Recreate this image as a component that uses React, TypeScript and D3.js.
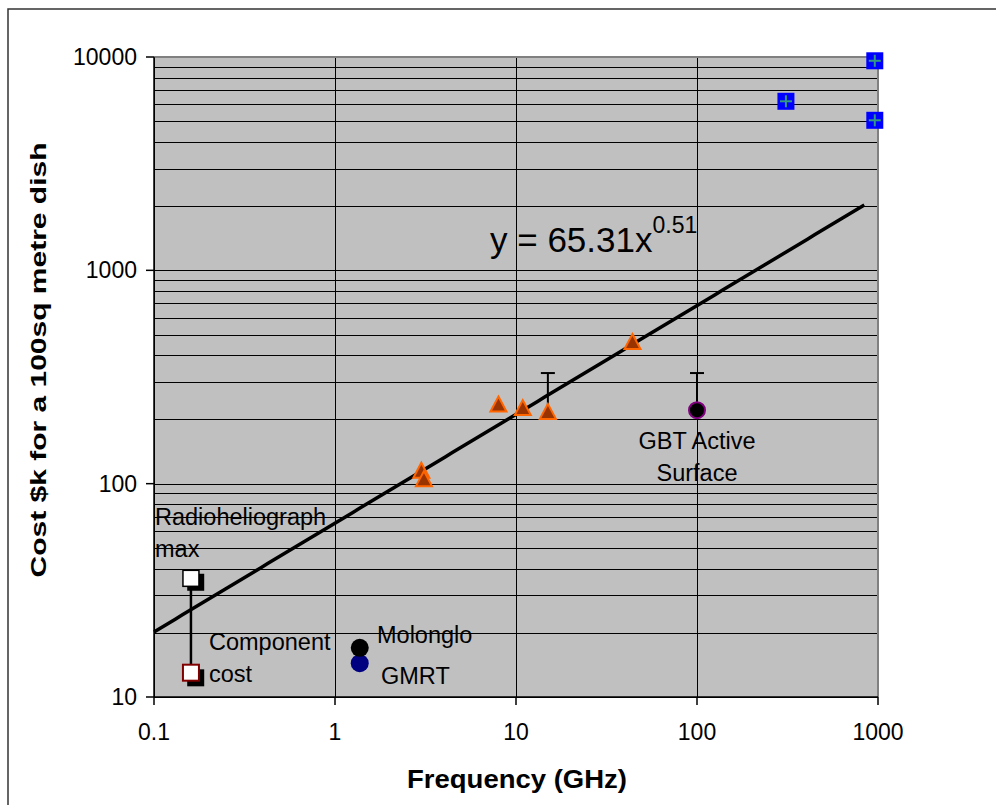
import * as d3 from "d3";

// frequency in GHz, cost in $k for a 100 sq metre dish
const triFreq = [3, 3.1, 8, 10.9, 15, 44];
const triCost = [115, 105, 235, 226, 217, 461];
const blueFreq = [960, 310, 960];
const blueCost = [9600, 6200, 5050];
const shadowFreq = [0.17, 0.17];
const shadowCost = [34.5, 12.3];
const helioFreq = 0.16;
const helioMax = 36;
const helioComp = 13;
const gbtFreq = 100;
const gbtCost = 221;
const errTops = [
  { f: 15, lo: 217, hi: 330 },
  { f: 100, lo: 221, hi: 330 },
];
const moloFreq = 1.37;
const moloCost = 17;
const gmrtCost = 14.4;
const trendA = 65.31;
const trendB = 0.51;
const trendMax = 840;
const xTicks = [0.1, 1, 10, 100, 1000];
const yTicks = [10, 100, 1000, 10000];

const W = 996;
const H = 805;
const margin = { top: 57, right: 118, bottom: 108, left: 154 };
const font = "'Liberation Sans', Arial, sans-serif";

function App() {
  const x = d3
    .scaleLog()
    .domain([0.1, 1000])
    .range([margin.left, W - margin.right]);
  const y = d3
    .scaleLog()
    .domain([10, 10000])
    .range([H - margin.bottom, margin.top]);

  // minor horizontal gridlines 2..9 in every decade
  const yGrid: number[] = [];
  yTicks.slice(0, -1).forEach((t) => {
    for (let k = 1; k <= 9; k++) yGrid.push(t * k);
  });
  yGrid.push(10000);

  const trendPts = d3
    .range(0, 101)
    .map((i) => 0.1 * Math.pow(trendMax / 0.1, i / 100))
    .map((f) => [x(f), y(trendA * Math.pow(f, trendB))] as [number, number]);
  const trendLine = d3.line()(trendPts);

  const tri = (cx: number, cy: number) =>
    `M${cx},${cy - 8} L${cx + 8},${cy + 7} L${cx - 8},${cy + 7} Z`;

  const x0 = margin.left;
  const x1 = W - margin.right;
  const y0 = margin.top;
  const y1 = H - margin.bottom;

  return (
    <div style={{ position: "absolute", left: 0, top: 0 }}>
      <svg width={W} height={H} style={{ display: "block" }}>
        <rect x={0} y={0} width={W} height={H} fill="#fff" />
        <rect
          x={8}
          y={9}
          width={W + 20}
          height={H + 20}
          fill="none"
          stroke="#333"
          strokeWidth={1.5}
        />

        {/* plot area */}
        <rect x={x0} y={y0} width={x1 - x0} height={y1 - y0} fill="#C0C0C0" />

        {/* gridlines */}
        {yGrid.map((t) => (
          <line
            key={t}
            x1={x0}
            x2={x1}
            y1={Math.round(y(t)) + 0.5}
            y2={Math.round(y(t)) + 0.5}
            stroke="#000"
            strokeWidth={1}
          />
        ))}
        {xTicks.map((t) => (
          <line
            key={t}
            x1={Math.round(x(t)) + 0.5}
            x2={Math.round(x(t)) + 0.5}
            y1={y0}
            y2={y1}
            stroke="#000"
            strokeWidth={1}
          />
        ))}

        {/* plot border top/right */}
        <line x1={x0} x2={x1} y1={y0} y2={y0} stroke="#808080" strokeWidth={2} />
        <line x1={x1} x2={x1} y1={y0} y2={y1} stroke="#808080" strokeWidth={2} />

        {/* axes */}
        <line x1={x0} x2={x0} y1={y0} y2={y1} stroke="#000" strokeWidth={1.5} />
        <line x1={x0} x2={x1} y1={y1} y2={y1} stroke="#000" strokeWidth={1.5} />
        {yTicks.map((t) => (
          <g key={t}>
            <line x1={x0 - 8} x2={x0} y1={y(t)} y2={y(t)} stroke="#000" strokeWidth={1.5} />
            <text
              x={x0 - 17}
              y={y(t)}
              textAnchor="end"
              dominantBaseline="central"
              fontFamily={font}
              fontSize={23}
              fill="#000"
            >
              {t}
            </text>
          </g>
        ))}
        {xTicks.map((t) => (
          <g key={t}>
            <line x1={x(t)} x2={x(t)} y1={y1} y2={y1 + 8} stroke="#000" strokeWidth={1.5} />
            <text
              x={x(t)}
              y={y1 + 43}
              textAnchor="middle"
              fontFamily={font}
              fontSize={23}
              fill="#000"
            >
              {t}
            </text>
          </g>
        ))}

        {/* trendline */}
        <path d={trendLine ?? ""} fill="none" stroke="#000" strokeWidth={3.5} />
        <text x={490} y={252} fontFamily={font} fontSize={35} fill="#000">
          y = 65.31x
          <tspan dy={-19} fontSize={23}>
            0.51
          </tspan>
        </text>

        {/* error bars */}
        {errTops.map((e) => (
          <g key={e.f}>
            <line x1={x(e.f)} x2={x(e.f)} y1={y(e.lo)} y2={y(e.hi)} stroke="#000" strokeWidth={2} />
            <line
              x1={x(e.f) - 7}
              x2={x(e.f) + 7}
              y1={y(e.hi)}
              y2={y(e.hi)}
              stroke="#000"
              strokeWidth={2}
            />
          </g>
        ))}

        {/* triangles */}
        {triFreq.map((f, i) => (
          <path
            key={i}
            d={tri(x(f), y(triCost[i]))}
            fill="#993300"
            stroke="#FF6600"
            strokeWidth={2}
          />
        ))}

        {/* blue squares */}
        {blueFreq.map((f, i) => {
          const cx = x(f);
          const cy = y(blueCost[i]);
          return (
            <g key={i}>
              <rect x={cx - 8.5} y={cy - 8.5} width={17} height={17} fill="#0000FF" />
              <line x1={cx - 6} x2={cx + 6} y1={cy} y2={cy} stroke="#339980" strokeWidth={2} />
              <line x1={cx} x2={cx} y1={cy - 6} y2={cy + 6} stroke="#339980" strokeWidth={2} />
            </g>
          );
        })}

        {/* radioheliograph */}
        {shadowFreq.map((f, i) => (
          <rect
            key={i}
            x={x(f) - 8.5}
            y={y(shadowCost[i]) - 8.5}
            width={17}
            height={17}
            fill="#000"
          />
        ))}
        <line
          x1={x(helioFreq)}
          x2={x(helioFreq)}
          y1={y(helioComp)}
          y2={y(helioMax)}
          stroke="#000"
          strokeWidth={2.5}
        />
        <rect
          x={x(helioFreq) - 8}
          y={y(helioMax) - 8}
          width={16}
          height={16}
          fill="#fff"
          stroke="#000"
          strokeWidth={1.5}
        />
        <rect
          x={x(helioFreq) - 8}
          y={y(helioComp) - 8}
          width={16}
          height={16}
          fill="#fff"
          stroke="#800000"
          strokeWidth={2}
        />

        {/* GBT */}
        <circle cx={x(gbtFreq)} cy={y(gbtCost)} r={8} fill="#000" stroke="#800080" strokeWidth={2} />

        {/* Molonglo & GMRT */}
        <circle cx={x(moloFreq)} cy={y(gmrtCost)} r={9} fill="#000080" />
        <circle cx={x(moloFreq)} cy={y(moloCost)} r={9} fill="#000" />

        {/* labels */}
        <g fontFamily={font} fontSize={23.5} fill="#000">
          <text x={155} y={525}>Radioheliograph</text>
          <text x={155} y={557}>max</text>
          <text x={209} y={650}>Component</text>
          <text x={209} y={682}>cost</text>
          <text x={377} y={643}>Molonglo</text>
          <text x={381} y={684}>GMRT</text>
          <text x={x(gbtFreq)} y={449} textAnchor="middle">GBT Active</text>
          <text x={x(gbtFreq)} y={481} textAnchor="middle">Surface</text>
        </g>

        {/* axis titles */}
        <text
          x={517}
          y={788}
          textAnchor="middle"
          fontFamily={font}
          fontSize={25}
          fontWeight="bold"
          textLength={220}
          lengthAdjust="spacingAndGlyphs"
        >
          Frequency (GHz)
        </text>
        <text
          transform={`translate(46,${360}) rotate(-90)`}
          textAnchor="middle"
          fontFamily={font}
          fontSize={22}
          fontWeight="bold"
          textLength={435}
          lengthAdjust="spacingAndGlyphs"
        >
          Cost $k for a 100sq metre dish
        </text>
      </svg>
    </div>
  );
}

export default App;
